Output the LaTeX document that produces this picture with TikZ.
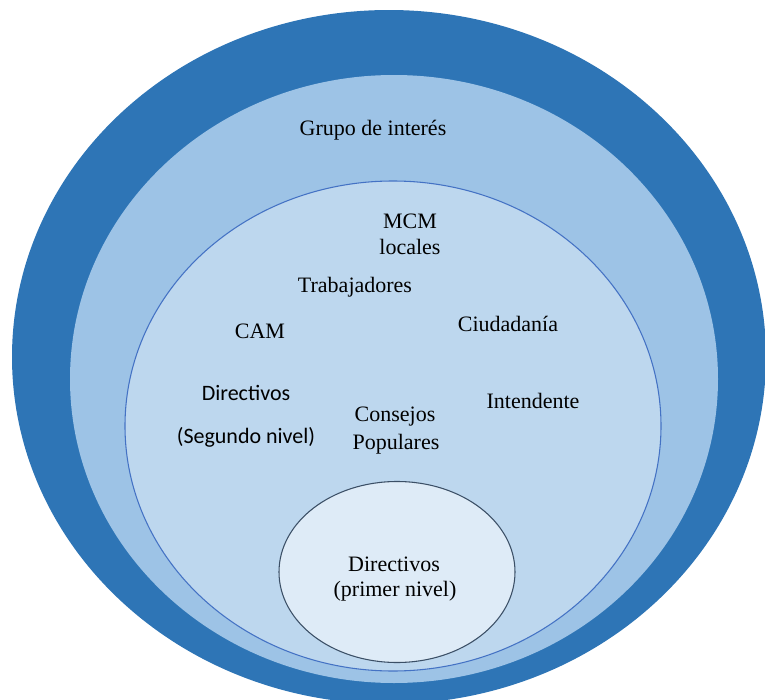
\documentclass[tikz,border=0pt]{standalone}
\usepackage{fontspec}
\newfontfamily\timesf{Liberation Serif}
\newfontfamily\calib{Carlito}
\newcommand\serifsz{\timesf\fontsize{16.5}{20}\selectfont}
\newcommand\sanssz{\calib\fontsize{16.5}{20}\selectfont}
\definecolor{outerC}{HTML}{2E75B6}
\definecolor{midC}{HTML}{9DC3E6}
\definecolor{innerC}{HTML}{BDD7EE}
\definecolor{innerB}{HTML}{4472C4}
\definecolor{smallC}{HTML}{DEEBF7}
\definecolor{smallB}{HTML}{3B4F66}
\begin{document}
\begin{tikzpicture}[x=0.75pt,y=-0.75pt]
\tikzset{lbl/.style={inner sep=0pt}}
\useasboundingbox (0,0) rectangle (765,700);
\fill[outerC] (389,357) ellipse [x radius=377, y radius=347];
\fill[midC] (394,379) ellipse [x radius=324, y radius=304];
\filldraw[fill=innerC, draw=innerB, line width=0.8pt] (393,426) ellipse [x radius=268, y radius=245];
\filldraw[fill=smallC, draw=smallB, line width=0.8pt] (397,572) ellipse [x radius=118, y radius=90.5];
\node[lbl] (grupo) at (373,130) {\serifsz Grupo de interés};
\node[lbl] (mcm) at (410,221) {\serifsz MCM};
\node[lbl] (locales) at (410,247) {\serifsz locales};
\node[lbl] (trab) at (355,287) {\serifsz Trabajadores};
\node[lbl] (cam) at (260,331) {\serifsz CAM};
\node[lbl] (ciud) at (508,324) {\serifsz Ciudadanía};
\node[lbl] (dir2) at (246,393) {\sanssz Directivos};
\node[lbl] (seg) at (246,437) {\sanssz (Segundo nivel)};
\node[lbl] (cons) at (395,417) {\serifsz Consejos};
\node[lbl] (pop) at (396,444) {\serifsz Populares};
\node[lbl] (int) at (533,401) {\serifsz Intendente};
\node[lbl] (dir1) at (394,564) {\serifsz Directivos};
\node[lbl] (prim) at (395,591) {\serifsz (primer nivel)};
\end{tikzpicture}
\end{document}
